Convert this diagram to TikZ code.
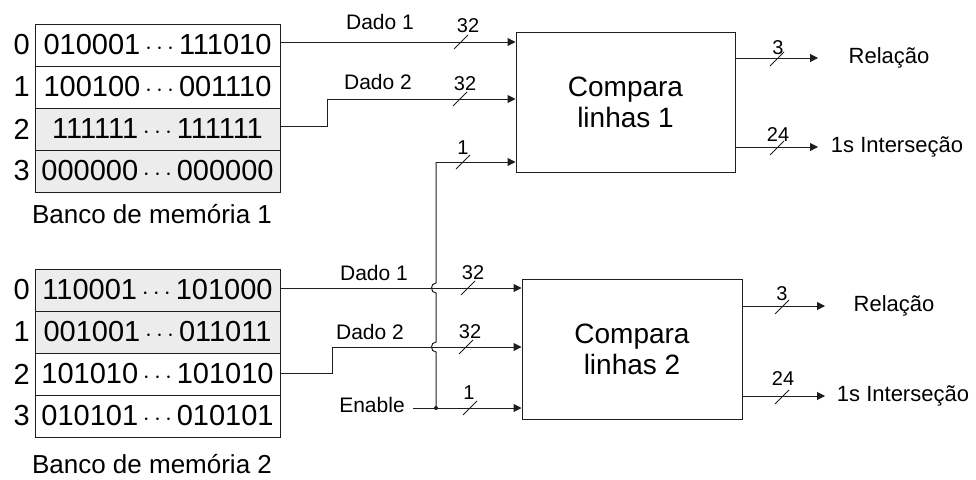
\documentclass[tikz,border=0pt]{standalone}
\usepackage{fontspec}
\setmainfont{Liberation Sans}
\usetikzlibrary{arrows.meta}
\definecolor{rowgray}{RGB}{236,236,236}
\definecolor{ink}{RGB}{30,30,30}
\begin{document}
\begin{tikzpicture}[x=1pt,y=-1pt,
  row/.style={draw=ink, line width=1pt, minimum width=245pt, minimum height=42pt, inner sep=0pt, font=\fontsize{29}{32}\selectfont},
  grayrow/.style={row, fill=rowgray},
  idx/.style={anchor=east, inner sep=0pt, font=\fontsize{29}{32}\selectfont},
  banklbl/.style={inner sep=0pt, font=\fontsize{26}{30}\selectfont},
  cmp/.style={draw=ink, line width=1pt, minimum width=220pt, minimum height=140pt, align=center, inner sep=0pt, font=\fontsize{28}{31}\selectfont},
  wlbl/.style={inner sep=0pt, font=\fontsize{21}{24}\selectfont},
  blbl/.style={inner sep=0pt, font=\fontsize{20}{22}\selectfont},
  olbl/.style={inner sep=0pt, font=\fontsize{22}{25}\selectfont},
  wire/.style={draw=ink, line width=1pt},
  arr/.style={wire, -{Triangle[length=8pt,width=8pt]}},
  bus/.pic={\draw[ink, line width=0.8pt] (-7,7) -- (7,-7);}
]
\useasboundingbox (0,0) rectangle (976,479);

% Bank 1
\node[row] (a0) at (157.5,45) {010001\,$\cdots$\,111010};
\node[row] (a1) at (157.5,87) {100100\,$\cdots$\,001110};
\node[grayrow] (a2) at (157.5,129) {111111\,$\cdots$\,111111};
\node[grayrow] (a3) at (157.5,171) {000000\,$\cdots$\,000000};
\node[idx] (ia0) at (30,45) {0};
\node[idx] (ia1) at (30,87) {1};
\node[idx] (ia2) at (30,129) {2};
\node[idx] (ia3) at (30,171) {3};
\node[banklbl] (bank1) at (152,214) {Banco de memória 1};

% Bank 2
\node[grayrow] (b0) at (157.5,290) {110001\,$\cdots$\,101000};
\node[grayrow] (b1) at (157.5,332) {001001\,$\cdots$\,011011};
\node[row] (b2) at (157.5,374) {101010\,$\cdots$\,101010};
\node[row] (b3) at (157.5,416) {010101\,$\cdots$\,010101};
\node[idx] (ib0) at (30,290) {0};
\node[idx] (ib1) at (30,332) {1};
\node[idx] (ib2) at (30,374) {2};
\node[idx] (ib3) at (30,416) {3};
\node[banklbl] (bank2) at (152,464) {Banco de memória 2};

% Comparators
\node[cmp, minimum width=219pt] (c1) at (625.5,102) {Compara\\linhas 1};
\node[cmp] (c2) at (632,349) {Compara\\linhas 2};

% Inputs to comparator 1
\draw[arr] ([yshift=3pt]a0.east) -- ([yshift=3pt]c1.west |- a0.east);
\draw[arr] ([yshift=3pt]a2.east) -- (327,126) -- (327,99) -- (c1.west |- 0,99);
\node[wlbl] (d11) at (380,22) {Dado 1};
\node[wlbl] (d12) at (378,82) {Dado 2};
\node[blbl] (n11) at (468,26) {32};
\node[blbl] (n12) at (465,84) {32};
\node[blbl] (n13) at (463,148) {1};
\pic at (461,42) {bus};
\pic at (460,99) {bus};
\pic at (463,162) {bus};

% Inputs to comparator 2
\node[wlbl] (en) at (372,405) {Enable};
\coordinate (j) at (436,408);
\draw[arr] ([yshift=2pt]b0.east) -- ([yshift=2pt]c2.west |- b0.east);
\draw[arr] ([yshift=1pt]b2.east) -- (332,373) -- (332,347) -- (c2.west |- 0,347);
\draw[arr] (en.east) ++(8,3) -- (c2.west |- j);
\fill[ink] (j) circle (2pt);
\draw[wire] (j) -- (436,352) .. controls (430,352) and (430,342) .. (436,342)
  -- (436,293) .. controls (430,293) and (430,283) .. (436,283)
  -- (436,162);
\draw[arr] (436,162) -- (c1.west |- 0,162);
\node[wlbl] (d21) at (374,273) {Dado 1};
\node[wlbl] (d22) at (370,332) {Dado 2};
\node[blbl] (n21) at (473,273) {32};
\node[blbl] (n22) at (470,332) {32};
\node[blbl] (n23) at (469,393) {1};
\pic at (468,288) {bus};
\pic at (466,347) {bus};
\pic at (470,408) {bus};

% Outputs comparator 1
\coordinate (o11) at (818,58);
\coordinate (o12) at (818,147);
\draw[arr] (c1.east |- o11) -- (o11);
\draw[arr] (c1.east |- o12) -- (o12);
\node[blbl] (m11) at (778,48) {3};
\node[blbl] (m12) at (778,135) {24};
\pic at (777,59) {bus};
\pic at (777,148) {bus};
\node[olbl] (r1) at (889,58) {Relação};
\node[olbl] (s1) at (897,147) {1s Interseção};

% Outputs comparator 2
\coordinate (o21) at (825,306);
\coordinate (o22) at (825,396);
\draw[arr] (c2.east |- o21) -- (o21);
\draw[arr] (c2.east |- o22) -- (o22);
\node[blbl] (m21) at (782,294) {3};
\node[blbl] (m22) at (783,379) {24};
\pic at (782,307) {bus};
\pic at (782,397) {bus};
\node[olbl] (r2) at (894,306) {Relação};
\node[olbl] (s2) at (903,396) {1s Interseção};
\end{tikzpicture}
\end{document}
